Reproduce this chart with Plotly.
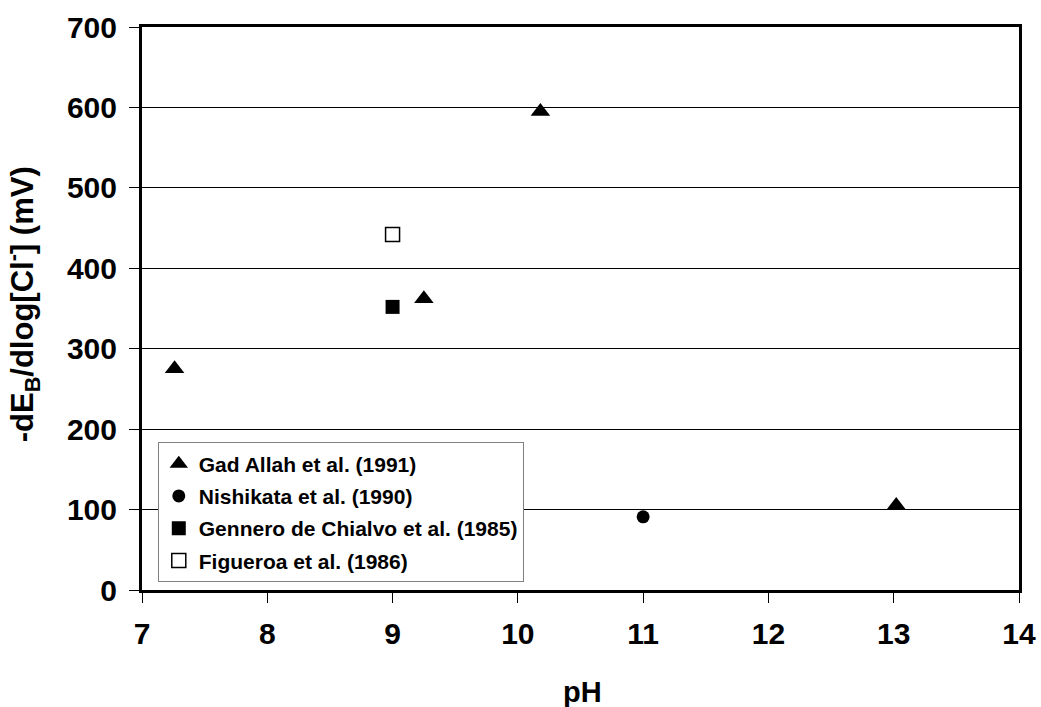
import plotly.graph_objects as go

# Bromide/chloride slope data by source
gad_ph = [7.26, 9.25, 10.18, 13.02]
gad_val = [275, 362, 595, 105]
nish_ph = [11.0]
nish_val = [91]
genn_ph = [9.0]
genn_val = [352]
fig_ph = [9.0]
fig_val = [442]

x_ticks = [7, 8, 9, 10, 11, 12, 13, 14]
y_ticks = [0, 100, 200, 300, 400, 500, 600, 700]

FONT = "Arial, Liberation Sans, sans-serif"

fig = go.Figure()
series = [
    ("Gad Allah et al. (1991)", gad_ph, gad_val, "triangle-up", "black", 17),
    ("Nishikata et al. (1990)", nish_ph, nish_val, "circle", "black", 13),
    ("Gennero de Chialvo et al. (1985)", genn_ph, genn_val, "square", "black", 14),
    ("Figueroa et al. (1986)", fig_ph, fig_val, "square-open", "black", 14),
]
for i, (name, xs, ys, sym, col, sz) in enumerate(series):
    fig.add_trace(go.Scatter(
        x=xs, y=ys, mode="markers", name=name, legendgroup=f"g{i}",
        marker=dict(symbol=sym, color=col, size=sz,
                    line=dict(color="black", width=1.5 if "open" in sym else 0)),
    ))

fig.update_layout(
    width=1041, height=707,
    margin=dict(l=142, r=22, t=27, b=117, autoexpand=False),
    paper_bgcolor="white", plot_bgcolor="white",
    font=dict(family=FONT, color="black"),
    showlegend=True,
    legend=dict(
        x=0.018, y=0.262, xanchor="left", yanchor="top",
        bgcolor="white", bordercolor="#808080", borderwidth=1,
        font=dict(family=FONT, size=21, color="black", weight="bold"),
        traceorder="grouped", tracegroupgap=2,
        itemwidth=30,
    ),
    xaxis=dict(
        range=[7, 14], tickvals=x_ticks, showgrid=False, zeroline=False,
        showline=True, linecolor="black", linewidth=3, mirror=True,
        ticks="outside", ticklen=10, tickcolor="black", tickwidth=1,
        ticklabelstandoff=5, automargin=False,
        tickfont=dict(family=FONT, size=30, color="black", weight="bold"),
    ),
    yaxis=dict(
        range=[0, 700], tickvals=y_ticks, showgrid=True, gridcolor="black",
        gridwidth=1, zeroline=False,
        showline=True, linecolor="black", linewidth=3, mirror=True,
        ticks="outside", ticklen=10, tickcolor="black", tickwidth=1,
        ticklabelstandoff=6, automargin=False,
        tickfont=dict(family=FONT, size=30, color="black", weight="bold"),
    ),
    annotations=[
        dict(text="pH", xref="paper", yref="paper", x=0.502, y=-0.182,
             xanchor="center", yanchor="middle", showarrow=False,
             font=dict(family=FONT, size=29, color="black", weight="bold")),
        dict(text="-dE<sub>B</sub>/dlog[Cl<sup>-</sup>] (mV)", xref="paper", yref="paper",
             x=-0.136, y=0.507, xanchor="center", yanchor="middle", textangle=-90,
             showarrow=False,
             font=dict(family=FONT, size=31, color="black", weight="bold")),
    ],
)

fig.write_html("out.html")
